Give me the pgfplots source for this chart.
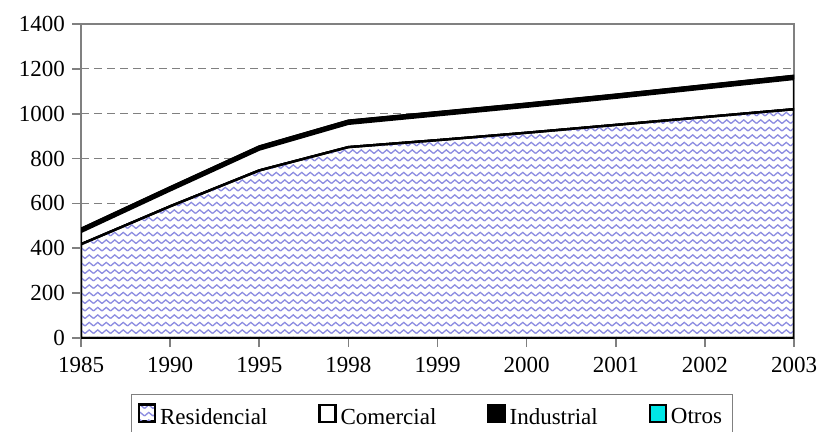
\documentclass[border=0pt]{standalone}
\usepackage{fontspec}
\setmainfont{Liberation Serif}
\usepackage{pgfplots}
\pgfplotsset{compat=1.18}
\usetikzlibrary{patterns}

\definecolor{wavecol}{RGB}{140,140,225}
\definecolor{axgray}{RGB}{128,128,128}
\definecolor{otros}{RGB}{0,230,230}

% wavy hatching used by the Residencial area
\pgfdeclarepatternformonly{wavy}{\pgfqpoint{-0.5pt}{-0.5pt}}{\pgfqpoint{4.75pt}{2.4pt}}{\pgfqpoint{4.25pt}{3.75pt}}{
  \pgfsetlinewidth{0.65pt}
  \pgfpathmoveto{\pgfqpoint{0pt}{0pt}}
  \pgfpathcurveto{\pgfqpoint{0.7pt}{0pt}}{\pgfqpoint{1.4pt}{1.8pt}}{\pgfqpoint{2.125pt}{1.8pt}}
  \pgfpathcurveto{\pgfqpoint{2.85pt}{1.8pt}}{\pgfqpoint{3.55pt}{0pt}}{\pgfqpoint{4.25pt}{0pt}}
  \pgfusepath{stroke}
}

\begin{document}
\begin{tikzpicture}
\begin{axis}[
    name=ax,
    scale only axis,
    width=356.5pt,
    height=157pt,
    xmin=0, xmax=8,
    ymin=0, ymax=1400,
    xtick={0,...,8},
    xticklabels={1985,1990,1995,1998,1999,2000,2001,2002,2003},
    ytick={0,200,...,1400},
    /pgf/number format/1000 sep={},
    /pgf/number format/assume math mode=true,
    tick label style={font=\fontsize{11.5}{13}\selectfont},
    xticklabel style={yshift=-1.5pt},
    tick align=outside,
    major tick length=4.5pt,
    tick style={axgray, line width=0.8pt},
    xtick pos=lower,
    ytick pos=left,
    axis line style={axgray, line width=1pt},
    ymajorgrids,
    grid style={axgray, line width=0.6pt, dash pattern=on 4pt off 2.5pt},
    stack plots=y,
    legend columns=4,
    legend image code/.code={
        \draw[#1, line width=1.1pt] (0.5pt,-2pt) rectangle (8.5pt,6.5pt);
    },
    legend style={
        at={(0.4923,0)}, anchor=north, yshift=-28pt,
        draw=axgray, line width=0.5pt, inner ysep=4.5pt,
        font=\fontsize{11.5}{13}\selectfont,
        /tikz/every even column/.append style={column sep=23.5pt},
    },
]

\addplot[draw=black, line width=1.2pt, preaction={fill=white},
         pattern=wavy, pattern color=wavecol] coordinates {
    (0,418) (1,587) (2,747) (3,851) (4,882) (5,915) (6,950) (7,985) (8,1020)
} \closedcycle;
\addlegendentry{Residencial}

\addplot[draw=black, line width=1.2pt, fill=white] coordinates {
    (0,55) (1,71) (2,93) (3,104) (4,111) (5,116) (6,121) (7,128) (8,135)
} \closedcycle;
\addlegendentry{Comercial}

\addplot[draw=black, line width=1.2pt, fill=black] coordinates {
    (0,14) (1,14) (2,14) (3,14) (4,14) (5,14) (6,14) (7,14) (8,14)
} \closedcycle;
\addlegendentry{Industrial}

\addplot[draw=black, line width=0.6pt, fill=otros] coordinates {
    (0,2) (1,2) (2,2) (3,2) (4,2) (5,2) (6,2) (7,2) (8,2)
} \closedcycle;
\addlegendentry{Otros}

\end{axis}
\pgfresetboundingbox
\path[use as bounding box] ([shift={(-40.5pt,-46.5pt)}]ax.south west)
    rectangle ([shift={(12.5pt,12pt)}]ax.north east);
\end{tikzpicture}
\end{document}
